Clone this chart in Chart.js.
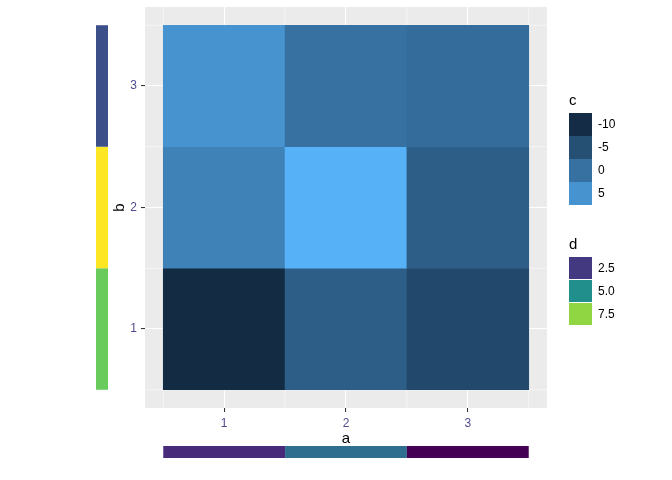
<!DOCTYPE html>
<html lang="en">
<head>
<meta charset="UTF-8">
<title>Heatmap with side bars</title>
<script src="https://cdn.jsdelivr.net/npm/chart.js"></script>
<style>
  html, body { margin: 0; padding: 0; background: #fff; }
  #wrap { width: 672px; height: 480px; }
</style>
</head>
<body>
<div id="wrap"><canvas id="heat" width="672" height="480"></canvas></div>
<script>
// tiles: column a, row b, fill value c
const tileA = [1, 2, 3, 1, 2, 3, 1, 2, 3];
const tileB = [1, 1, 1, 2, 2, 2, 3, 3, 3];
const tileC = [-10.2, -2.8, -5.9, 2.5, 9.3, -2.8, 5.0, 0.0, -0.6];

// side bars: d for each a (bottom) and for each b (left)
const sideA = [1, 2, 3];
const sideAd = [2.15, 3.95, 1.25];
const sideB = [1, 2, 3];
const sideBd = [7.0, 8.75, 3.05];

const axisTicks = [1, 2, 3];
const minorTicks = [0.5, 1.5, 2.5, 3.5];
const cBreaks = [-10, -5, 0, 5];
const dBreaks = [2.5, 5.0, 7.5];

const FONT = "'Liberation Sans', Arial, sans-serif";
const TICK_COL = '#4f4b8f';

// colour scales
function hexRgb(h) {
  return [1, 3, 5].map(i => parseInt(h.substr(i, 2), 16));
}
function mix(c1, c2, t) {
  const a = hexRgb(c1), b = hexRgb(c2);
  return 'rgb(' + a.map((v, i) => Math.round(v + (b[i] - v) * t)).join(',') + ')';
}
const cMin = Math.min(...tileC), cMax = Math.max(...tileC);
function cColor(v) {
  const t = Math.max(0, Math.min(1, (v - cMin) / (cMax - cMin)));
  return mix('#132B43', '#56B1F7', t);
}
const viridis = ['#440154', '#482475', '#414487', '#355F8D', '#2A788E', '#21908D',
                 '#22A884', '#43BF71', '#7AD151', '#BBDF27', '#FDE725'];
const allD = sideAd.concat(sideBd);
const dMin = Math.min(...allD), dMax = Math.max(...allD);
function dColor(v) {
  let t = Math.max(0, Math.min(1, (v - dMin) / (dMax - dMin))) * (viridis.length - 1);
  const i = Math.min(Math.floor(t), viridis.length - 2);
  return mix(viridis[i], viridis[i + 1], t - i);
}

const extras = {
  id: 'extras',
  beforeDraw(chart) {
    const {ctx, chartArea: a} = chart;
    ctx.save();
    ctx.fillStyle = '#EBEBEB';
    ctx.fillRect(a.left, a.top, a.right - a.left, a.bottom - a.top);
    ctx.restore();
  },
  beforeDatasetsDraw(chart) {
    const {ctx, chartArea: a, scales: {x, y}} = chart;
    ctx.save();
    ctx.strokeStyle = '#fff';
    ctx.lineWidth = 0.55;
    minorTicks.forEach(v => {
      const px = x.getPixelForValue(v), py = y.getPixelForValue(v);
      ctx.beginPath(); ctx.moveTo(px, a.top); ctx.lineTo(px, a.bottom); ctx.stroke();
      ctx.beginPath(); ctx.moveTo(a.left, py); ctx.lineTo(a.right, py); ctx.stroke();
    });
    ctx.restore();
  },
  afterDraw(chart) {
    const {ctx, chartArea: a, scales: {x, y}} = chart;
    ctx.save();
    // left side bar (d by b)
    sideB.forEach((b, i) => {
      const y1 = y.getPixelForValue(b + 0.5), y2 = y.getPixelForValue(b - 0.5);
      ctx.fillStyle = dColor(sideBd[i]);
      ctx.fillRect(a.left - 49, y1, 12, y2 - y1);
    });
    // bottom side bar (d by a)
    sideA.forEach((v, i) => {
      const x1 = x.getPixelForValue(v - 0.5), x2 = x.getPixelForValue(v + 0.5);
      ctx.fillStyle = dColor(sideAd[i]);
      ctx.fillRect(x1, a.bottom + 38, x2 - x1, 12);
    });

    // legends
    const lx = a.right + 22, key = 23;
    ctx.fillStyle = '#000';
    ctx.textBaseline = 'middle';
    ctx.textAlign = 'left';
    ctx.font = '15px ' + FONT;
    ctx.fillText('c', lx, 101);
    let ky = 113;
    cBreaks.forEach(v => {
      ctx.fillStyle = cColor(v);
      ctx.fillRect(lx, ky, key, key);
      ctx.fillStyle = '#000';
      ctx.font = '12px ' + FONT;
      ctx.fillText(String(v), lx + 29, ky + key / 2);
      ky += key;
    });

    ctx.font = '15px ' + FONT;
    ctx.fillText('d', lx, 245);
    ky = 257;
    dBreaks.forEach(v => {
      ctx.fillStyle = dColor(v);
      ctx.fillRect(lx, ky, key, key - 1);
      ctx.fillStyle = '#000';
      ctx.font = '12px ' + FONT;
      ctx.fillText(v.toFixed(1), lx + 29, ky + key / 2);
      ky += key;
    });
    ctx.restore();
  }
};

const gridOpts = {
  color: '#ffffff',
  lineWidth: 1.07,
  tickColor: '#333333',
  tickWidth: 1.07,
  tickLength: 4,
  offset: false
};

function noPad(s) {
  s.paddingTop = 0; s.paddingBottom = 0; s.paddingLeft = 0; s.paddingRight = 0;
}

new Chart(document.getElementById('heat'), {
  type: 'bar',
  data: {
    datasets: [{
      data: tileA.map((v, i) => ({x: v, y: [tileB[i] - 0.5, tileB[i] + 0.5]})),
      backgroundColor: tileC.map(cColor),
      borderWidth: 0,
      barPercentage: 1,
      categoryPercentage: 1
    }]
  },
  options: {
    responsive: false,
    animation: false,
    devicePixelRatio: 1,
    layout: {padding: {top: 7, right: 125, bottom: 0, left: 0}},
    plugins: {legend: {display: false}, tooltip: {enabled: false}},
    scales: {
      x: {
        type: 'linear',
        min: 0.35,
        max: 3.65,
        offset: false,
        grid: gridOpts,
        border: {display: false},
        afterBuildTicks: s => { s.ticks = axisTicks.map(v => ({value: v})); },
        afterFit: s => { s.height = 72; noPad(s); },
        ticks: {color: TICK_COL, font: {family: FONT, size: 12}, padding: 4},
        title: {display: true, text: 'a', color: '#000',
                font: {family: FONT, size: 15}, padding: {top: 0, bottom: 32}}
      },
      y: {
        type: 'linear',
        min: 0.35,
        max: 3.65,
        grid: gridOpts,
        border: {display: false},
        afterBuildTicks: s => { s.ticks = axisTicks.map(v => ({value: v})); },
        afterFit: s => { s.width = 145; noPad(s); },
        ticks: {color: TICK_COL, font: {family: FONT, size: 12}, padding: 4},
        title: {display: true, text: 'b', color: '#000',
                font: {family: FONT, size: 15}, padding: {top: 111, bottom: 0}}
      }
    }
  },
  plugins: [extras]
});
</script>
</body>
</html>
